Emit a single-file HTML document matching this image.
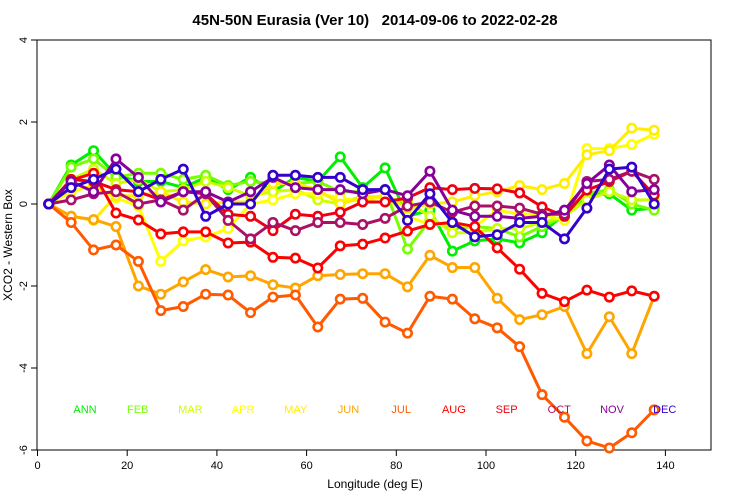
<!DOCTYPE html>
<html><head><meta charset="utf-8"><style>
body{margin:0;background:#fff;}
svg{display:block;font-family:"Liberation Sans",Arial,sans-serif;}
</style></head><body>
<svg id="chart" width="750" height="500">
<text x="375" y="25" text-anchor="middle" font-size="15" font-weight="bold">45N-50N Eurasia (Ver 10)&#160;&#160;&#160;2014-09-06 to 2022-02-28</text>
<rect x="37" y="40" width="674" height="410" fill="none" stroke="#000" stroke-width="1"/>
<g id="xaxis"></g>
<g id="yaxis"></g>
<text x="375" y="488" text-anchor="middle" font-size="12">Longitude (deg E)</text>
<text transform="translate(12,245) rotate(-90)" text-anchor="middle" font-size="12">XCO2 - Western Box</text>
<g id="series"></g>
<g id="legend"></g>
</svg>
<script>
const longitudes=[2.5,7.5,12.5,17.5,22.5,27.5,32.5,37.5,42.5,47.5,52.5,57.5,62.5,67.5,72.5,77.5,82.5,87.5,92.5,97.5,102.5,107.5,112.5,117.5,122.5,127.5,132.5,137.5];
const xTicks=[0,20,40,60,80,100,120,140];
const yTicks=[-6,-4,-2,0,2,4];
const seriesNames=["ANN","FEB","MAR","APR","MAY","JUN","JUL","AUG","SEP","OCT","NOV","DEC"];
const seriesColors=["#00ee00","#77ff00","#ccff00","#ffff00","#ffee00","#ffa500","#ff5a00","#ff0000","#ee0011","#aa1166","#880099","#3300cc"];
const ann=[0,0.95,1.3,0.7,0.55,0.55,0.4,0.65,0.35,0.65,0.3,0.65,0.55,1.15,0.4,0.88,-0.3,-0.15,-1.15,-0.9,-0.85,-0.95,-0.7,-0.25,0.2,0.25,-0.15,-0.1];
const feb=[0,0.9,1.1,0.65,0.75,0.75,0.6,0.7,0.45,0.55,0.5,0.5,0.55,0.3,0.3,0.35,-1.1,-0.4,-0.6,-0.55,-0.6,-0.8,-0.55,-0.3,0.25,0.35,0.0,-0.15];
const mar=[0,0.6,0.85,0.5,0.6,0.3,0.35,0.55,0.4,0.2,0.3,0.35,0.1,0.0,0.2,0.15,0.05,-0.3,-0.7,-0.7,-0.6,-0.6,-0.45,-0.3,0.1,0.3,0.1,0.1];
const apr=[0,0.3,0.45,0.15,-0.05,-1.4,-0.9,-0.8,-0.6,0.0,0.1,0.25,0.25,0.15,0.05,0.2,-0.3,-0.5,-0.5,-0.55,-0.15,-0.25,-0.25,-0.4,1.35,1.35,1.45,1.7];
const may=[0,-0.3,-0.4,0.2,0.2,0.3,0.05,0.0,0.05,0.05,0.5,0.5,0.35,0.0,0.15,0.2,-0.1,0.0,0.05,0.2,0.3,0.45,0.35,0.5,1.2,1.3,1.85,1.8];
const jun=[0,-0.3,-0.38,-0.55,-2.0,-2.2,-1.9,-1.6,-1.78,-1.75,-1.97,-2.05,-1.75,-1.72,-1.7,-1.7,-2.02,-1.25,-1.55,-1.55,-2.3,-2.82,-2.7,-2.5,-3.65,-2.75,-3.65,-2.25];
const jul=[0,-0.45,-1.12,-1.0,-1.4,-2.6,-2.5,-2.2,-2.22,-2.65,-2.27,-2.22,-3.0,-2.32,-2.3,-2.88,-3.15,-2.25,-2.32,-2.8,-3.02,-3.48,-4.65,-5.2,-5.78,-5.95,-5.58,-5.02];
const aug=[0,0.58,0.75,-0.22,-0.39,-0.73,-0.68,-0.68,-0.95,-0.93,-1.3,-1.32,-1.56,-1.02,-0.98,-0.83,-0.66,-0.5,-0.45,-0.55,-1.07,-1.59,-2.18,-2.38,-2.1,-2.27,-2.12,-2.25];
const sep=[0,0.6,0.55,0.35,0.3,0.1,0.3,0.25,-0.25,-0.3,-0.65,-0.25,-0.3,-0.2,0.05,0.05,0.15,0.4,0.35,0.38,0.37,0.27,-0.07,-0.3,0.34,0.55,0.8,0.22];
const oct=[0,0.1,0.25,0.3,0.0,0.1,-0.15,0.25,-0.4,-0.85,-0.45,-0.65,-0.45,-0.45,-0.5,-0.35,-0.05,0.05,-0.2,-0.05,-0.05,-0.1,-0.25,-0.25,0.55,0.6,0.8,0.6];
const nov=[0,0.55,0.3,1.1,0.65,0.05,0.3,0.3,0.05,0.3,0.65,0.4,0.35,0.35,0.25,0.35,0.2,0.8,-0.15,-0.3,-0.3,-0.35,-0.3,-0.15,0.5,0.95,0.3,0.35];
const dec=[0,0.4,0.6,0.85,0.3,0.6,0.85,-0.3,0.0,0.0,0.7,0.7,0.65,0.65,0.35,0.35,-0.4,0.25,-0.45,-0.8,-0.75,-0.45,-0.45,-0.85,-0.1,0.85,0.9,0.0];
const seriesValues=[ann,feb,mar,apr,may,jun,jul,aug,sep,oct,nov,dec];
const legendValue=-5.0;

const NS="http://www.w3.org/2000/svg";
const X0=37.5,XS=89.7/20,Y0=204,YS=41;
function xs(v){return X0+v*XS;}
function ys(v){return Y0-v*YS;}
function mk(t,a,p){const e=document.createElementNS(NS,t);for(const k in a)e.setAttribute(k,a[k]);p.appendChild(e);return e;}

const xa=document.getElementById('xaxis');
xTicks.forEach(t=>{
  const l=mk('line',{x1:xs(t),x2:xs(t),y1:450,y2:456,stroke:'#000'},xa);
  
  
  const tx=mk('text',{x:xs(t),y:469,'text-anchor':'middle','font-size':11},xa);
  tx.textContent=t;
  
  
});
const ya=document.getElementById('yaxis');
yTicks.forEach(t=>{
  const l=mk('line',{x1:31,x2:37,y1:ys(t),y2:ys(t),stroke:'#000'},ya);
  
  
  const tx=mk('text',{transform:`translate(27,${ys(t)}) rotate(-90)`,'text-anchor':'middle','font-size':11},ya);
  tx.textContent=t;
  
  
});
const sg=document.getElementById('series');
seriesValues.forEach((vals,i)=>{
  const g=mk('g',{},sg);
  
  
  const pts=vals.map((v,j)=>xs(longitudes[j])+','+ys(v)).join(' ');
  const pl=mk('polyline',{points:pts,fill:'none',stroke:seriesColors[i],'stroke-width':3,'stroke-linejoin':'round'},g);
  
  
  vals.forEach((v,j)=>{
    const c=mk('circle',{cx:xs(longitudes[j]),cy:ys(v),r:4.2,fill:'#fff',stroke:seriesColors[i],'stroke-width':2.6},g);
    
    
  });
});
const lg=document.getElementById('legend');
seriesNames.forEach((n,i)=>{
  const t=mk('text',{x:85+i*52.7,y:ys(legendValue)+4,'text-anchor':'middle','font-size':11,fill:seriesColors[i]},lg);
  t.textContent=n;
  
  
});
</script>
</body></html>
